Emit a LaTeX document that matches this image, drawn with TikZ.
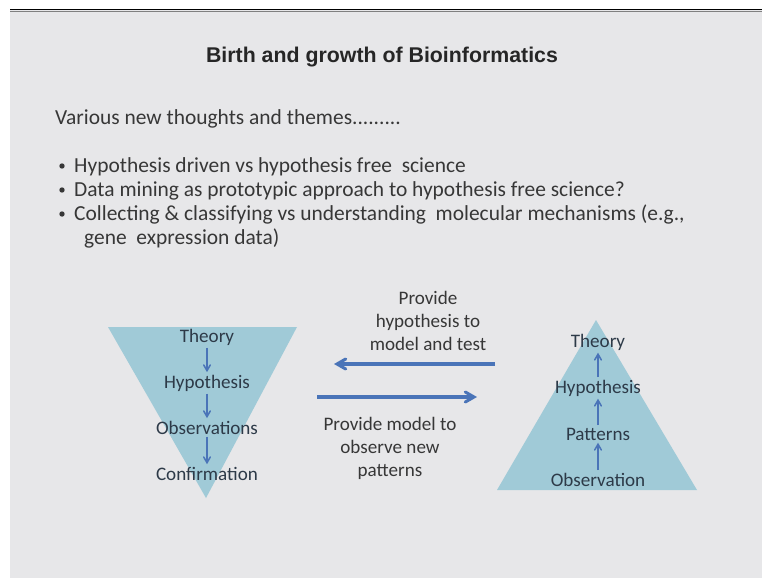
\documentclass[tikz,border=0pt]{standalone}
\usepackage{fontspec}
\setmainfont{Carlito}
\newfontfamily\headfont{Liberation Sans}
\usetikzlibrary{arrows}

\definecolor{slidebg}{RGB}{231,231,233}
\definecolor{pyramid}{RGB}{160,202,215}
\definecolor{flowblue}{RGB}{74,116,184}
\definecolor{bodytext}{RGB}{55,55,55}
\definecolor{lbltext}{RGB}{45,58,72}

\tikzset{
  body/.style={anchor=base west, inner sep=0pt, text=bodytext,
    font=\fontsize{18.3}{22}\selectfont},
  lbl/.style={anchor=base, inner sep=1pt, text=lbltext,
    font=\fontsize{16.3}{19}\selectfont},
  note/.style={align=center, inner sep=0pt, text=bodytext,
    font=\fontsize{16.3}{19.6}\selectfont},
  flow/.style={-angle 60, flowblue, line width=1.3pt, shorten >=1pt, shorten <=1pt},
  link/.style={-angle 60, flowblue, line width=2.6pt}
}

\begin{document}
\begin{tikzpicture}[x=0.03cm, y=-0.03cm]
\useasboundingbox (0,0) rectangle (762,580);
\fill[white] (0,0) rectangle (762,580);
\fill[slidebg] (10,10) rectangle (762,578);
\draw[black, line width=1.6pt] (10,9.5) -- (762,9.5);
\draw[gray, line width=0.8pt] (10,11.5) -- (762,11.5);

% heading and bullets
\node[inner sep=0pt, text=black!85, font=\headfont\bfseries\fontsize{18.2}{21}\selectfont]
  (title) at (382,57) {Birth and growth of Bioinformatics};
\node[body] (intro) at (55,124) {Various new thoughts and themes.........};
\node[body] (b1) at (74,172) {Hypothesis driven vs hypothesis free\ \ science};
\node[body] (b2) at (74,196) {Data mining as prototypic approach to\ hypothesis free science?};
\node[body] (b3) at (74,220) {Collecting \& classifying vs understanding\ \ molecular mechanisms (e.g.,};
\node[body] (b3b) at (84,244) {gene\ \ expression data)};
\foreach \y in {166,190,214}
  \fill[bodytext] (62,\y) circle (2.7);

% the two triangles
\fill[pyramid] (108,327) -- (297,327) -- (206,498) -- cycle;
\fill[pyramid] (596,320) -- (697,490) -- (497,490) -- cycle;

% top-down chain
\node[lbl] (ltheory) at (207,342) {Theory};
\node[lbl] (lhyp) at (207,388) {Hypothesis};
\node[lbl] (lobs) at (207,434) {Observations};
\node[lbl] (lconf) at (207,480) {Confirmation};
\draw[flow] (ltheory) -- (lhyp);
\draw[flow] (lhyp) -- (lobs);
\draw[flow] (lobs) -- (lconf);

% bottom-up chain
\node[lbl] (rtheory) at (598,347) {Theory};
\node[lbl] (rhyp) at (598,393) {Hypothesis};
\node[lbl] (rpat) at (598,440) {Patterns};
\node[lbl] (robs) at (598,486) {Observation};
\draw[flow] (robs) -- (rpat);
\draw[flow] (rpat) -- (rhyp);
\draw[flow] (rhyp) -- (rtheory);

% exchange between the two
\coordinate (askR) at (495,364);
\coordinate (askL) at (334,364);
\coordinate (giveL) at (317,397);
\coordinate (giveR) at (477,397);
\draw[link] (askR) -- (askL);
\draw[link] (giveL) -- (giveR);
\node[note] (ask) at (428,321) {Provide\\hypothesis to\\model and test};
\node[note] (give) at (390,448) {Provide model to\\observe new\\patterns};

\end{tikzpicture}
\end{document}
